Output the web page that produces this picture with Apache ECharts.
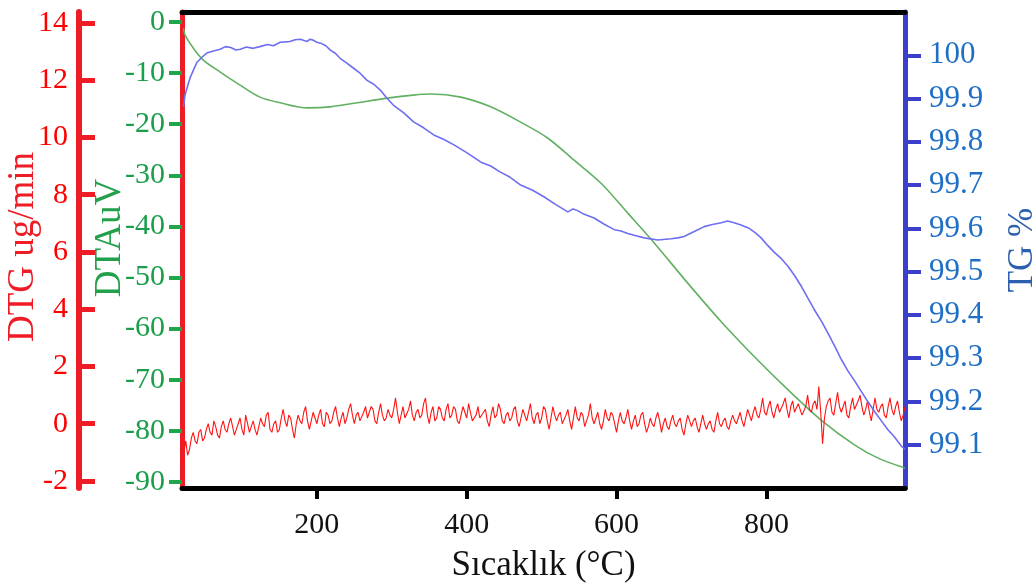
<!DOCTYPE html>
<html><head><meta charset="utf-8">
<script src="https://cdn.jsdelivr.net/npm/echarts@6/dist/echarts.min.js"></script>
<style>html,body{margin:0;padding:0;background:#fff}#c{width:1035px;height:583px}</style>
</head><body><div id="c"></div>
<script>
const xTicks = [200, 400, 600, 800];
const dtgTicks = [-2, 0, 2, 4, 6, 8, 10, 12, 14];
const dtaTicks = [0, -10, -20, -30, -40, -50, -60, -70, -80, -90];
const tgTicks = [99.1, 99.2, 99.3, 99.4, 99.5, 99.6, 99.7, 99.8, 99.9, 100];

// DTG (ug/min) sampled every 2.5 °C starting at 20 °C
const dtgStart = 20, dtgStep = 2.5;
const dtgValues = [
 -1.3,-1.0,-0.6,-1.1,-0.9,-0.5,-0.3,-0.6,-0.7,-0.3,-0.2,-0.6,-0.5,-0.2,0.0,-0.3,-0.4,0.1,-0.1,-0.4,-0.5,-0.1,0.1,-0.2,-0.3,0.0,0.2,-0.1,-0.4,-0.2,0.0,0.2,-0.2,-0.4,0.3,0.0,-0.3,-0.1,0.1,-0.2,
 -0.4,-0.1,0.2,0.0,-0.1,0.3,0.4,-0.2,-0.3,0.0,0.1,-0.3,-0.2,0.2,0.5,0.1,-0.1,0.3,0.2,-0.2,-0.5,0.0,0.3,0.1,0.0,0.4,0.6,0.1,-0.2,0.1,0.4,0.2,0.0,0.3,0.5,0.0,-0.1,0.4,0.3,0.0,
 0.1,0.4,0.6,0.2,-0.1,0.2,0.4,0.0,0.2,0.5,0.7,0.3,0.0,0.3,0.4,0.1,0.1,0.4,0.6,0.2,0.2,0.6,0.5,0.1,0.0,0.4,0.7,0.3,0.1,0.2,0.5,0.3,0.2,0.5,0.9,0.4,0.0,0.3,0.6,0.2,
 0.2,0.5,0.8,0.3,0.1,0.4,0.5,0.2,0.3,0.7,0.9,0.3,0.0,0.4,0.6,0.1,0.2,0.6,0.5,0.2,0.1,0.5,0.7,0.2,0.3,0.6,0.5,0.1,0.0,0.3,0.6,0.4,0.2,0.7,0.4,0.1,0.1,0.3,0.6,0.2,
 0.2,0.4,0.5,0.1,-0.1,0.3,0.6,0.2,0.3,0.7,0.5,0.1,0.0,0.3,0.4,0.1,0.2,0.5,0.6,0.1,-0.1,0.2,0.5,0.3,0.1,0.4,0.7,0.2,0.0,0.3,0.4,0.0,0.2,0.6,0.5,0.1,-0.2,0.2,0.6,0.3,
 0.1,0.3,0.4,0.0,0.0,0.3,0.5,0.1,-0.2,0.2,0.6,0.2,0.1,0.4,0.3,-0.1,-0.1,0.3,0.7,0.2,0.0,0.2,0.4,0.0,-0.2,0.1,0.5,0.2,0.1,0.4,0.3,0.0,-0.3,0.1,0.4,0.1,0.0,0.2,0.5,0.1,
 -0.2,0.1,0.3,-0.1,0.0,0.3,0.4,0.0,-0.3,-0.1,0.2,0.0,-0.1,0.2,0.4,0.1,-0.3,0.0,0.2,-0.1,-0.2,0.1,0.3,0.0,-0.1,0.1,0.2,-0.2,-0.4,0.0,0.3,0.1,-0.1,0.1,0.2,-0.1,-0.3,0.0,0.3,0.0,
 -0.2,0.0,0.1,-0.2,-0.3,0.1,0.4,0.0,-0.1,0.1,0.2,-0.1,-0.2,0.1,0.3,0.1,0.0,0.2,0.4,0.1,-0.1,0.2,0.5,0.3,0.1,0.4,0.6,0.3,0.2,0.5,0.9,0.4,0.3,0.6,0.8,0.4,0.2,0.5,0.7,0.4,
 0.4,0.7,0.9,0.5,0.2,0.6,0.8,0.4,0.4,0.7,0.7,0.3,0.3,0.6,1.0,0.5,0.4,0.7,0.8,0.5,1.3,0.4,-0.7,0.2,0.6,0.8,0.9,0.4,0.3,0.7,1.1,0.6,0.4,0.6,0.8,0.3,0.2,0.6,0.9,0.5,
 0.5,0.8,1.0,0.6,0.3,0.5,0.8,0.4,0.1,0.5,0.9,0.5,0.4,0.6,0.7,0.3,0.2,0.6,0.9,0.5,0.3,0.6,0.8,0.4,0.1,0.3,0.6
];

// DTA (uV)
const dtaTemps  = [22, 24, 35, 48, 71, 97, 124, 151, 187, 218, 254, 294, 329, 352, 392, 432, 472, 508, 543, 579, 615, 650, 695, 740, 784, 829, 873, 918, 950, 985];
const dtaValues = [-1.2, -2.5, -5.1, -7.4, -9.8, -12.3, -14.7, -15.8, -16.8, -16.6, -15.8, -14.9, -14.3, -14.1, -14.7, -16.6, -19.6, -22.7, -27.0, -31.5, -37.4, -43.2, -51.1, -58.7, -65.5, -72.0, -77.9, -82.8, -85.4, -87.3];

// TG (%)
const tgTemps  = [22, 24, 31, 40, 47, 53, 62, 71, 78, 85, 92, 98, 106, 115, 124, 134, 142, 151, 158, 164, 171, 178, 183, 187, 191, 195, 200, 205, 212, 218, 225, 231, 240, 249, 258, 267, 276, 285, 293, 302, 316, 329, 342, 356, 369, 383, 400, 419, 432, 445, 458, 472, 488, 503, 519, 535, 542, 548, 556, 570, 583, 597, 606, 615, 626, 637, 655, 673, 682, 690, 703, 717, 728, 740, 748, 757, 766, 776, 785, 793, 802, 811, 820, 829, 838, 847, 855, 864, 874, 883, 892, 900, 909, 918, 927, 936, 945, 954, 962, 971, 980, 985];
const tgValues = [99.88, 99.908, 99.949, 99.984, 99.996, 100.005, 100.01, 100.014, 100.020, 100.018, 100.012, 100.014, 100.019, 100.016, 100.020, 100.025, 100.022, 100.030, 100.031, 100.032, 100.036, 100.037, 100.034, 100.032, 100.037, 100.035, 100.030, 100.028, 100.022, 100.012, 100.004, 99.993, 99.982, 99.970, 99.958, 99.942, 99.933, 99.919, 99.902, 99.885, 99.867, 99.846, 99.833, 99.816, 99.806, 99.793, 99.775, 99.753, 99.744, 99.730, 99.718, 99.700, 99.688, 99.673, 99.655, 99.638, 99.645, 99.641, 99.633, 99.624, 99.610, 99.597, 99.594, 99.588, 99.583, 99.578, 99.573, 99.576, 99.578, 99.581, 99.592, 99.604, 99.609, 99.613, 99.617, 99.613, 99.608, 99.601, 99.590, 99.578, 99.560, 99.544, 99.530, 99.512, 99.490, 99.465, 99.440, 99.412, 99.384, 99.355, 99.325, 99.297, 99.270, 99.247, 99.222, 99.198, 99.175, 99.154, 99.135, 99.118, 99.097, 99.090];

const dtgData = dtgValues.map((v, i) => [dtgStart + i * dtgStep, v]);
const dtaData = dtaTemps.map((t, i) => [t, dtaValues[i]]);
const tgData = tgTemps.map((t, i) => [t, tgValues[i]]);

const FONT = 'Liberation Serif';
const RED = '#ee1c24', GREEN = '#1fa64a', BLUE = '#3b3fcc';

const chart = echarts.init(document.getElementById('c'), null, {renderer: 'canvas'});
chart.setOption({
  animation: false,
  backgroundColor: '#ffffff',
  grid: {left: 182, right: 130, top: 12, bottom: 95, containLabel: false, outerBoundsMode: 'none'},
  xAxis: [{
    type: 'value', min: 20, max: 985, position: 'bottom',
    name: 'Sıcaklık (°C)', nameLocation: 'middle', nameGap: 60, nameMoveOverlap: false,
    nameTextStyle: {fontFamily: FONT, fontSize: 35, color: '#111'},
    axisLine: {show: true, onZero: false, lineStyle: {color: '#000', width: 5}},
    axisTick: {show: true, customValues: xTicks, length: 11, lineStyle: {color: '#000', width: 4}},
    axisLabel: {customValues: xTicks, margin: 22, fontFamily: FONT, fontSize: 30, color: '#111'},
    splitLine: {show: false}
  }, {
    type: 'value', min: 20, max: 985, position: 'top',
    axisLine: {show: true, onZero: false, lineStyle: {color: '#000', width: 5}},
    axisTick: {show: false}, axisLabel: {show: false}, splitLine: {show: false}
  }],
  yAxis: [{
    // DTG
    type: 'value', min: -2.245, max: 14.38, position: 'left', offset: 103,
    name: 'DTG ug/min', nameLocation: 'middle', nameRotate: 90, nameGap: 37, nameMoveOverlap: false,
    nameTextStyle: {fontFamily: FONT, fontSize: 37, color: RED, padding: [0, 0, 0, 6]},
    axisLine: {show: true, onZero: false, lineStyle: {color: RED, width: 6}},
    axisTick: {show: true, inside: true, customValues: dtgTicks, length: 16, lineStyle: {color: RED, width: 5}},
    axisLabel: {customValues: dtgTicks, margin: 11, fontFamily: FONT, fontSize: 30, color: '#ff0000'},
    splitLine: {show: false}
  }, {
    // DTA
    type: 'value', min: -91.2, max: 1.96, position: 'left', offset: 0,
    name: 'DTAuV', nameLocation: 'middle', nameRotate: 90, nameGap: 53, nameMoveOverlap: false,
    nameTextStyle: {fontFamily: FONT, fontSize: 37, color: '#22a04c', padding: [0, 0, 0, 24]},
    axisLine: {show: true, onZero: false, lineStyle: {color: RED, width: 5}},
    axisTick: {show: true, customValues: dtaTicks, length: 13, lineStyle: {color: GREEN, width: 4}},
    axisLabel: {customValues: dtaTicks, margin: 17, fontFamily: FONT, fontSize: 30, color: '#1a9e4a'},
    splitLine: {show: false}
  }, {
    // TG
    type: 'value', min: 99.0, max: 100.1, position: 'right', offset: 0,
    name: 'TG %', nameLocation: 'middle', nameRotate: 90, nameGap: 100, nameMoveOverlap: false,
    nameTextStyle: {fontFamily: FONT, fontSize: 35, color: '#2c5fae'},
    axisLine: {show: true, onZero: false, lineStyle: {color: BLUE, width: 5}},
    axisTick: {show: true, customValues: tgTicks, length: 16, lineStyle: {color: BLUE, width: 4}},
    axisLabel: {customValues: tgTicks, margin: 24, fontFamily: FONT, fontSize: 31, color: '#1f6fc6',
      formatter: v => (Math.abs(v - 100) < 1e-6 ? '100' : v.toFixed(1))},
    splitLine: {show: false}
  }],
  series: [{
    name: 'DTA', type: 'line', xAxisIndex: 0, yAxisIndex: 1, data: dtaData,
    smooth: 0.3, showSymbol: false, lineStyle: {color: '#62b062', width: 1.6}, z: 2
  }, {
    name: 'DTG', type: 'line', xAxisIndex: 0, yAxisIndex: 0, data: dtgData,
    showSymbol: false, lineStyle: {color: '#ff1414', width: 1.1}, z: 3
  }, {
    name: 'TG', type: 'line', xAxisIndex: 0, yAxisIndex: 2, data: tgData,
    showSymbol: false, lineStyle: {color: '#6e6ef2', width: 1.6}, z: 4
  }]
});
</script>
</body></html>
